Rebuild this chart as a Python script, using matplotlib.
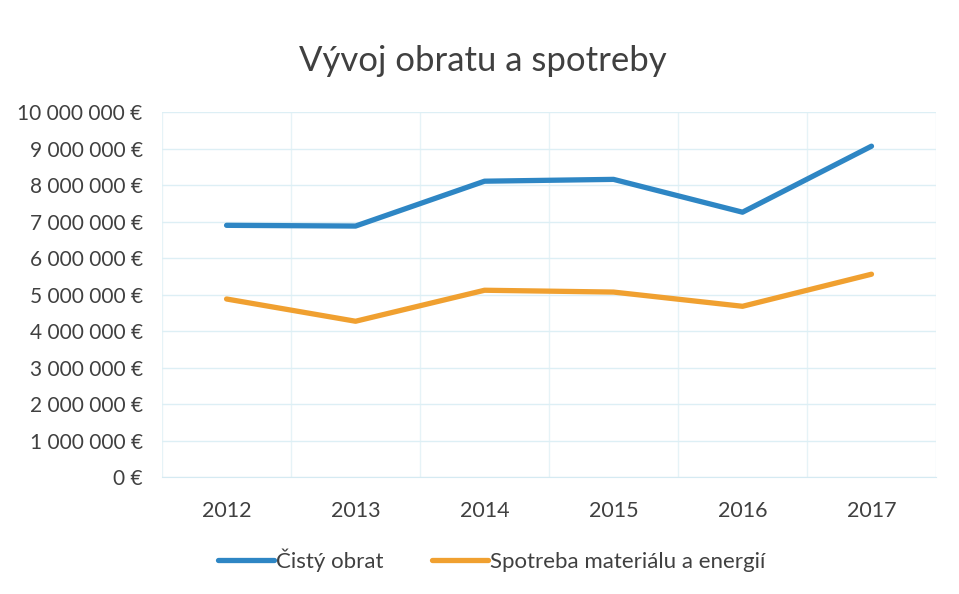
import matplotlib
matplotlib.use("Agg")
import matplotlib.pyplot as plt
from matplotlib.ticker import FuncFormatter, MultipleLocator, FixedLocator

years = ["2012", "2013", "2014", "2015", "2016", "2017"]
cisty_obrat = [6900000, 6880000, 8110000, 8160000, 7260000, 9070000]
spotreba = [4880000, 4270000, 5120000, 5070000, 4680000, 5560000]
series_names = ["Čistý obrat", "Spotreba materiálu a energií"]

plt.rcParams['font.family'] = ['Lato', 'DejaVu Sans']

fig = plt.figure(figsize=(9.59, 5.94), dpi=100)
ax = fig.add_axes([0.169, 0.197, 0.807, 0.614])

x = list(range(len(years)))
ax.plot(x, cisty_obrat, color="#2E86C4", lw=3.8, solid_capstyle="round", label=series_names[0])
ax.plot(x, spotreba, color="#F0A030", lw=3.8, solid_capstyle="round", label=series_names[1])

ax.set_xlim(-0.5, len(years) - 0.5)
ax.set_ylim(0, 10000000)
ax.yaxis.set_major_locator(MultipleLocator(1000000))
ax.yaxis.set_major_formatter(FuncFormatter(lambda v, p: f"{int(v):,}".replace(",", " ") + " €"))
ax.set_xticks(x)
ax.set_xticklabels(years)
ax.xaxis.set_minor_locator(FixedLocator([i + 0.5 for i in range(-1, len(years))]))

ax.grid(axis="y", which="major", color="#DDEFF5", lw=1)
ax.grid(axis="x", which="minor", color="#E6F3F7", lw=1)
ax.set_axisbelow(True)
for s in ax.spines.values():
    s.set_visible(False)
ax.spines["bottom"].set_visible(True)
ax.spines["bottom"].set_color("#D5EAF2")
ax.tick_params(axis="both", which="both", length=0, labelsize=15.5, labelcolor="#404040")
ax.tick_params(axis="y", labelsize=15, pad=14)
ax.tick_params(axis="x", pad=17)

fig.text(0.503, 0.898, "Vývoj obratu a spotreby", ha="center", va="center", fontsize=25, color="#404040")

fig.legend(loc="center", bbox_to_anchor=(0.513, 0.057), ncol=2, frameon=False,
           fontsize=16, handlelength=2.5, handletextpad=0.1, columnspacing=2.2,
           labelcolor="#404040")

fig.savefig("out.png", dpi=100, facecolor="white")
